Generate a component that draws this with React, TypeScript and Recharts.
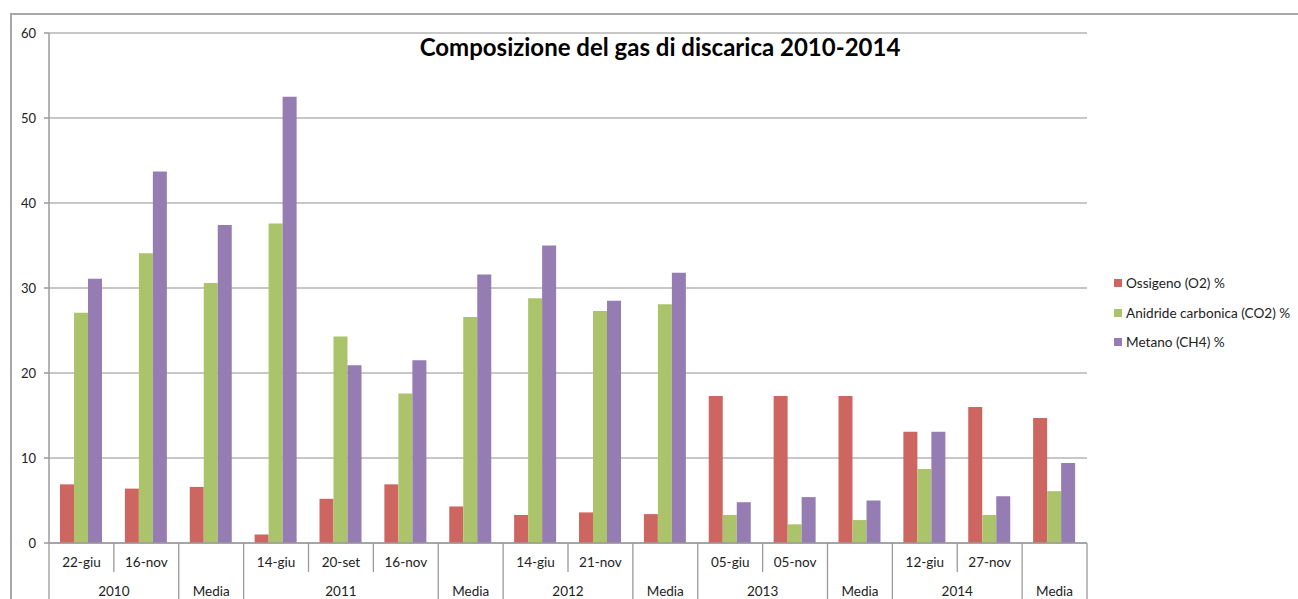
import React from 'react';
import { BarChart, Bar, XAxis, YAxis, CartesianGrid } from 'recharts';

// dates shown on first axis row ('' for the "Media" columns)
const dates = ['22-giu', '16-nov', '', '14-giu', '20-set', '16-nov', '', '14-giu', '21-nov', '', '05-giu', '05-nov', '', '12-giu', '27-nov', ''];
// second axis row: group label + how many columns it spans
const groupNames = ['2010', 'Media', '2011', 'Media', '2012', 'Media', '2013', 'Media', '2014', 'Media'];
const groupSizes = [2, 1, 3, 1, 2, 1, 2, 1, 2, 1];

const ossigeno = [6.9, 6.4, 6.6, 1.0, 5.2, 6.9, 4.3, 3.3, 3.6, 3.4, 17.3, 17.3, 17.3, 13.1, 16.0, 14.7];
const anidride = [27.1, 34.1, 30.6, 37.6, 24.3, 17.6, 26.6, 28.8, 27.3, 28.1, 3.3, 2.2, 2.7, 8.7, 3.3, 6.1];
const metano = [31.1, 43.7, 37.4, 52.5, 20.9, 21.5, 31.6, 35.0, 28.5, 31.8, 4.8, 5.4, 5.0, 13.1, 5.5, 9.4];

const yTicks = [0, 10, 20, 30, 40, 50, 60];

const SERIES = [
  { key: 'o2', name: 'Ossigeno (O2) %', color: '#CD6560' },
  { key: 'co2', name: 'Anidride carbonica (CO2) %', color: '#ABC46B' },
  { key: 'ch4', name: 'Metano (CH4) %', color: '#957CB3' },
];

// for each column: is it the first of its group, and which group
const groupStart: number[] = [];
const groupOf: number[] = [];
groupSizes.forEach((n, g) => {
  for (let k = 0; k < n; k++) {
    groupStart.push(k === 0 ? 1 : 0);
    groupOf.push(g);
  }
});

const data = dates.map((d, i) => ({
  id: String(i),
  date: d,
  o2: ossigeno[i],
  co2: anidride[i],
  ch4: metano[i],
}));

const FONT = 'Lato, "Open Sans", sans-serif';
const W = 1298;
const H = 599;
const PLOT_LEFT = 49;
const PLOT_RIGHT = 1087;
const PLOT_TOP = 33;
const PLOT_BOTTOM = 543;
const BAND = (PLOT_RIGHT - PLOT_LEFT) / dates.length;
const LINE = '#9a9a9a';

const CategoryTick = (props: any) => {
  const { x, payload } = props;
  const i = Number(payload.value);
  const left = x - BAND / 2;
  const first = groupStart[i] === 1;
  const g = groupOf[i];
  const n = groupSizes[g];
  return (
    <g>
      <line x1={left} y1={PLOT_BOTTOM} x2={left} y2={first ? H + 5 : 572} stroke={LINE} strokeWidth={1.3} />
      {i === dates.length - 1 && (
        <line x1={x + BAND / 2} y1={PLOT_BOTTOM} x2={x + BAND / 2} y2={H + 5} stroke={LINE} strokeWidth={1.3} />
      )}
      {dates[i] && (
        <text x={x} y={562} textAnchor="middle" dominantBaseline="central" fontSize={13.5} fill="#222" fontFamily={FONT}>
          {dates[i]}
        </text>
      )}
      {first && (
        <text x={left + (n * BAND) / 2} y={591} textAnchor="middle" dominantBaseline="central" fontSize={13.5} fill="#222" fontFamily={FONT}>
          {groupNames[g]}
        </text>
      )}
    </g>
  );
};

export default function App() {
  return (
    <div style={{ position: 'absolute', left: 0, top: 0, width: W, height: H, overflow: 'hidden', background: '#fff', fontFamily: FONT }}>
      <div style={{ position: 'absolute', left: 10, top: 13, width: W, height: H, borderTop: '2px solid #a8a8a8', borderLeft: '2px solid #a8a8a8' }} />
      <BarChart
        width={W}
        height={H}
        data={data}
        margin={{ top: PLOT_TOP, right: W - PLOT_RIGHT, bottom: 0, left: 9 }}
        barCategoryGap={11}
        barGap={0}
        style={{ position: 'absolute', left: 0, top: 0 }}
      >
        <CartesianGrid horizontal vertical={false} stroke="#8f8f8f" strokeWidth={1.2} />
        <XAxis
          dataKey="id"
          height={H - PLOT_BOTTOM}
          stroke={LINE}
          strokeWidth={1.5}
          tickLine={false}
          interval={0}
          tick={<CategoryTick />}
        />
        <YAxis
          width={40}
          domain={[0, 60]}
          ticks={yTicks}
          stroke={LINE}
          strokeWidth={1.5}
          tickSize={5}
          tickMargin={8}
          tick={{ fontSize: 13, fill: '#222', fontFamily: FONT }}
        />
        {SERIES.map((s) => (
          <Bar key={s.key} dataKey={s.key} name={s.name} fill={s.color} isAnimationActive={false} />
        ))}
      </BarChart>
      <div style={{ position: 'absolute', left: 0, width: 1320, top: 32, textAlign: 'center', fontSize: 24, fontWeight: 700, color: '#000', lineHeight: '30px' }}>
        Composizione del gas di discarica 2010-2014
      </div>
      {SERIES.map((s, i) => (
        <div key={s.key} style={{ position: 'absolute', left: 1114, top: 274 + i * 29.5, height: 18, display: 'flex', alignItems: 'center', fontSize: 13.6, color: '#222', whiteSpace: 'nowrap' }}>
          <span style={{ display: 'inline-block', width: 8, height: 8, background: s.color, marginRight: 4 }} />
          {s.name}
        </div>
      ))}
    </div>
  );
}
